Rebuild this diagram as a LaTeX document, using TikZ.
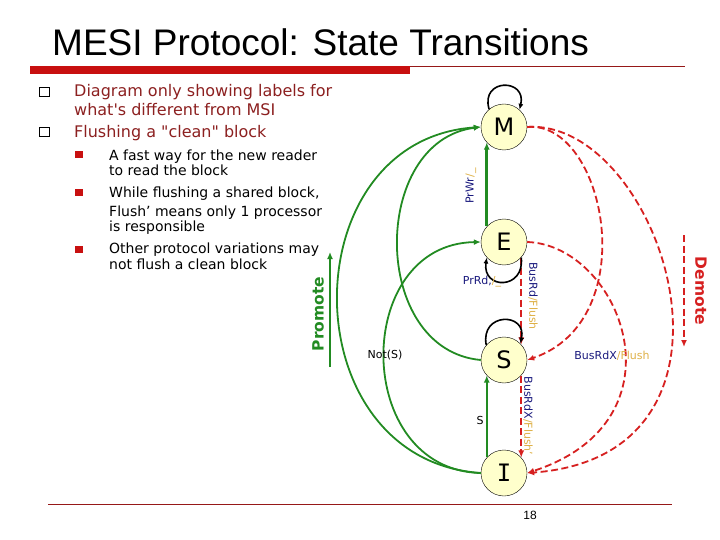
\documentclass[tikz,border=0pt]{standalone}
\usepackage{fontspec}
\setmainfont{DejaVu Sans}
\newfontfamily\rawsans{DejaVu Sans}
\newfontfamily\titlefont{Liberation Sans}
\newfontfamily\serifI{DejaVu Sans Mono}
\usetikzlibrary{arrows.meta}
\definecolor{promogreen}{RGB}{34,139,34}
\definecolor{demored}{RGB}{214,32,32}
\definecolor{busblue}{RGB}{25,25,125}
\definecolor{flushgold}{RGB}{222,176,70}
\definecolor{statefill}{RGB}{255,255,204}
\definecolor{titlered}{RGB}{200,16,16}
\definecolor{rulered}{RGB}{150,24,24}
\definecolor{itemred}{RGB}{140,32,32}

\begin{document}
\begin{tikzpicture}[x=1pt,y=-1pt]

\tikzstyle{state} = [draw, circle, fill=statefill, minimum size=46pt, inner sep=0pt, font=\fontsize{24}{24}\selectfont]
\tikzstyle{promo} = [promogreen, line width=1.8pt, -{Latex[length=7pt,width=6pt]}]
\tikzstyle{demo} = [demored, line width=1.8pt, dash pattern=on 7pt off 3.5pt, -{Latex[length=7pt,width=6pt]}]
\tikzstyle{loopy} = [black, line width=1.6pt, -{Latex[length=6pt,width=5pt]}]
\tikzstyle{lbl} = [inner sep=1pt, font=\fontsize{11}{11}\selectfont]

\useasboundingbox (0,0) rectangle (720,540);

% title and rules
\node[anchor=base west, inner sep=0, font=\titlefont\fontsize{37}{37}\selectfont] (title) at (52,56) {MESI Protocol: State Transitions};
\fill[titlered] (30,66) rectangle (410,74);
\draw[rulered, line width=0.8pt] (410,66.5) -- (685,66.5);
\draw[rulered, line width=0.8pt] (48,504) -- (672,504);
\node[font=\titlefont\fontsize{12}{12}\selectfont] (page) at (530,515) {18};

% bullets
\foreach \y [count=\i] in {92,132}
  \node[draw, line width=1pt, minimum width=10pt, minimum height=8.5pt, inner sep=0] (box\i) at (44,\y) {};
\foreach \y in {155,193,249}
  \fill[titlered] (75,\y-3.5) rectangle (83,\y+3.5);

\foreach \y/\t [count=\i] in {97/Diagram only showing labels for, 116/what's different from MSI, 138/Flushing a "clean" block}
  \node[anchor=base west, inner sep=0, itemred, font=\rawsans\fontsize{16}{16}\selectfont] (head\i) at (74,\y) {\t};

\foreach \y/\t [count=\i] in {161/A fast way for the new reader, 176/to read the block, 197/{While flushing a shared block,}, 216/Flush’ means only 1 processor, 232/is responsible, 253/Other protocol variations may, 269/not flush a clean block}
  \node[anchor=base west, inner sep=0, font=\fontsize{14}{14}\selectfont] (sub\i) at (109,\y) {\t};

% states
\node[state] (M) at (504,127) {M};
\node[state] (E) at (504,242) {E};
\node[state] (S) at (504,360) {S};
\node[state] (I) at (504,473) {\serifI I};

% promotions
\draw[promo, line width=3pt] (E.138) -- (M.222);
\draw[promo] (I.138) -- (S.222);
\draw[promo] (I.west) .. controls (290,460) and (290,140) .. (M.west);
\draw[promo] (S.west) .. controls (370,350) and (370,141) .. (M.west);
\draw[promo] (I.west) .. controls (352,470) and (352,244) .. (E.west);

% demotions
\draw[demo] (E.318) -- (S.42);
\draw[demo] (S.318) -- (I.42);
\draw[demo] (M.east) .. controls (605,120) and (645,320) .. (S.east);
\draw[demo] (E.east) .. controls (620,245) and (690,420) .. (I.east);
\draw[demo] (M.east) .. controls (660,118) and (772,455) .. (I.east);

% self loops
\draw[loopy] (M.130) .. controls (480,78) and (527,78) .. (M.48);
\draw[loopy] (E.318) .. controls (525,290) and (482,290) .. (E.222);
\draw[loopy] (S.140) .. controls (480,312) and (527,312) .. (S.45);

% labels
\node[lbl, rotate=90] (prwr) at (471,186) {\color{busblue}PrWr\color{flushgold}/\_};
\node[lbl] (prrd) at (482,282) {\color{busblue}PrRd,\color{flushgold}/\_};
\node[lbl, rotate=-90] (busrd) at (533,296) {\color{busblue}BusRd\color{flushgold}/Flush};
\node[lbl, rotate=-90] (busrdx) at (528,416) {\color{busblue}BusRdX\color{flushgold}/Flush’};
\node[lbl] (busrdxm) at (612,356) {\color{busblue}BusRdX\color{flushgold}/Flush};
\node[lbl] (nots) at (385,355) {Not(S)};
\node[lbl] (shared) at (480,420) {S};

% promote / demote
\node[promogreen, rotate=90, font=\bfseries\fontsize{15.5}{15.5}\selectfont] (promote) at (318,314) {Promote};
\coordinate (pbot) at (330,367);
\coordinate (ptop) at (330,252);
\draw[promo, line width=2pt] (pbot) -- (ptop);
\node[demored, rotate=-90, font=\bfseries\fontsize{15.5}{15.5}\selectfont] (demote) at (701,291) {Demote};
\coordinate (dtop) at (684,235);
\coordinate (dbot) at (684,347);
\draw[demo] (dtop) -- (dbot);

\end{tikzpicture}
\end{document}
